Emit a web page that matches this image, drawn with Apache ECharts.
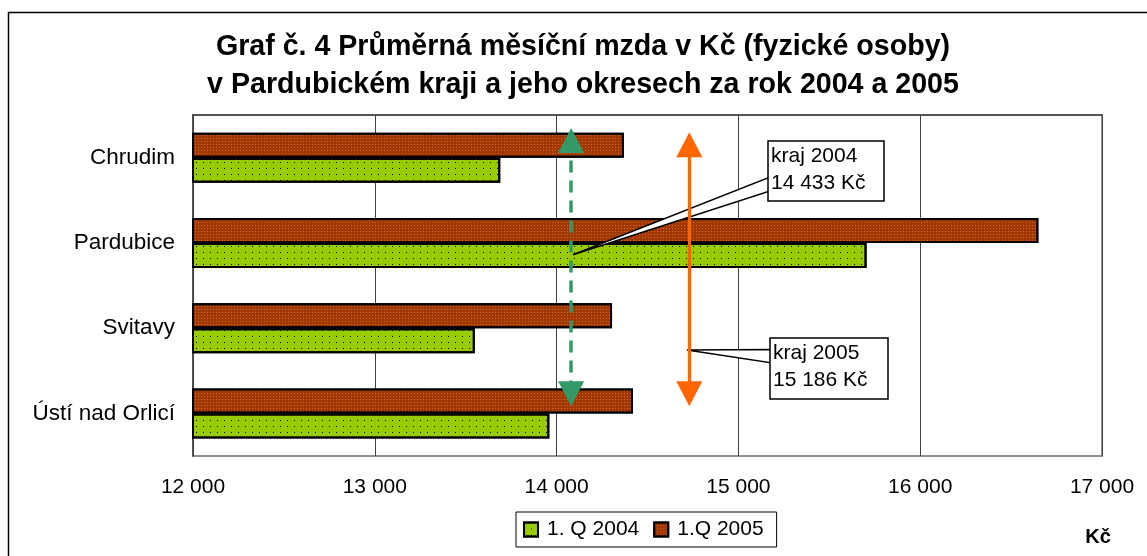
<!DOCTYPE html>
<html>
<head>
<meta charset="utf-8">
<script src="https://cdn.jsdelivr.net/npm/echarts@6/dist/echarts.min.js"></script>
<style>
  html, body { margin: 0; padding: 0; background: #fff; }
  #chart { width: 1147px; height: 556px; }
</style>
</head>
<body>
<div id="chart"></div>
<script>
// data
const categories = ['Chrudim', 'Pardubice', 'Svitavy', 'Ústí nad Orlicí'];
const q2004 = [13690, 15705, 13550, 13960];
const q2005 = [14370, 16650, 14305, 14420];
const xTicks = [12000, 13000, 14000, 15000, 16000, 17000];
const xTickLabels = ['12 000', '13 000', '14 000', '15 000', '16 000', '17 000'];

// annotations (x in Kč, y in category units from top)
const arrowX = [14080, 14730];
const arrowY = [[0.3, 3.27], [0.35, 3.27]];
const calloutText = [['kraj 2004', '14 433 Kč'], ['kraj 2005', '15 186 Kč']];
const calloutTip = [[14090, 1.64], [14717, 2.757]];

const font = "'Liberation Sans', Arial, sans-serif";
const chart = echarts.init(document.getElementById('chart'));

const option = {
  animation: false,
  backgroundColor: '#fff',
  textStyle: { fontFamily: font },
  legend: {
    data: ['1. Q 2004', '1.Q 2005'],
    icon: 'rect',
    left: 516,
    top: 512,
    padding: [7, 13, 7, 7],
    itemGap: 14,
    itemWidth: 14,
    itemHeight: 14,
    borderColor: '#000',
    borderWidth: 1,
    textStyle: { fontSize: 21, color: '#000', fontFamily: font, padding: [0, 0, 0, 4] }
  },
  grid: { left: 193, right: 45, top: 115, bottom: 100, show: true, borderColor: '#909090', borderWidth: 2 },
  xAxis: {
    type: 'value',
    min: 12000,
    max: 17000,
    interval: 1000,
    axisLine: { show: true, lineStyle: { color: '#404040', width: 1.5 } },
    axisTick: { show: true, length: 6, lineStyle: { color: '#404040' } },
    splitLine: { lineStyle: { color: '#404040', width: 1 } },
    axisLabel: {
      fontSize: 21, color: '#000', margin: 21, fontFamily: font,
      formatter: v => xTickLabels[xTicks.indexOf(v)]
    }
  },
  yAxis: [
    {
      type: 'category',
      data: categories,
      inverse: true,
      axisLine: { lineStyle: { color: '#404040', width: 1.5 } },
      axisTick: { length: 7, lineStyle: { color: '#606060' } },
      axisLabel: { fontSize: 22.5, color: '#000', margin: 18, fontFamily: font }
    },
    { type: 'value', min: 0, max: 4, inverse: true, show: false }
  ],
  series: [
    // 2005 first so it sits above 2004 in each band
    {
      name: '1.Q 2005',
      type: 'bar',
      data: q2005,
      barWidth: 25,
      barGap: '0%',
      itemStyle: {
        color: '#9E3804', borderColor: '#000', borderWidth: 2,
        decal: { symbol: 'rect', symbolSize: 1, color: '#E8660E', dashArrayX: [1, 2], dashArrayY: [1, 2] }
      }
    },
    {
      name: '1. Q 2004',
      type: 'bar',
      data: q2004,
      barWidth: 25,
      barGap: '0%',
      itemStyle: {
        color: '#99CC00', borderColor: '#000', borderWidth: 2,
        decal: { symbol: 'rect', symbolSize: 1, color: '#000', dashArrayX: [1, 6], dashArrayY: [1, 5] }
      }
    },
    {
      name: 'arrows',
      type: 'line',
      yAxisIndex: 1,
      data: [],
      z: 10,
      markLine: {
        silent: true,
        symbol: ['triangle', 'triangle'],
        symbolSize: [26, 25],
        label: { show: false },
        data: [
          [
            { coord: [arrowX[0], arrowY[0][0]], lineStyle: { color: '#339966', width: 3.5, type: [12, 8] }, itemStyle: { color: '#339966' } },
            { coord: [arrowX[0], arrowY[0][1]] }
          ],
          [
            { coord: [arrowX[1], arrowY[1][0]], lineStyle: { color: '#FF6600', width: 3.3, type: 'solid' }, itemStyle: { color: '#FF6600' } },
            { coord: [arrowX[1], arrowY[1][1]] }
          ]
        ]
      }
    }
  ]
};
chart.setOption(option);

// callout boxes with pointers
const boxes = [[768, 141, 116, 60, 177, 191], [770, 338, 118, 61, 349.5, 363]];
const graphics = [
  { type: 'rect', z: 0, silent: true, shape: { x: 8.5, y: 12.5, width: 1200, height: 600 }, style: { fill: 'none', stroke: '#000', lineWidth: 1.5 } },
  {
    type: 'text', z: 5, silent: true,
    style: {
      x: 583, y: 66, text: 'Graf č. 4 Průměrná měsíční mzda v Kč (fyzické osoby)\nv Pardubickém kraji a jeho okresech za rok 2004 a 2005',
      textAlign: 'center', textVerticalAlign: 'middle', font: "bold 28.6px " + font, lineHeight: 38, fill: '#000'
    }
  },
  { type: 'text', z: 5, silent: true, style: { x: 1098, y: 537, text: 'Kč', textAlign: 'center', textVerticalAlign: 'middle', font: "bold 20px " + font, fill: '#000' } }
];
boxes.forEach((b, i) => {
  const tx = chart.convertToPixel({ xAxisIndex: 0 }, calloutTip[i][0]);
  const ty = chart.convertToPixel({ yAxisIndex: 1 }, calloutTip[i][1]);
  graphics.push({
    type: 'polygon', z: 4, silent: true,
    shape: { points: [[tx, ty], [b[0] + 2, b[4]], [b[0] + 2, b[5]]] },
    style: { fill: '#fff', stroke: '#000', lineWidth: 1.5 }
  });
  graphics.push({
    type: 'rect', z: 4, silent: true,
    shape: { x: b[0], y: b[1], width: b[2], height: b[3] },
    style: { fill: '#fff', stroke: '#000', lineWidth: 1.5 }
  });
  graphics.push({
    type: 'text', z: 4, silent: true,
    style: { x: b[0] + 3, y: b[1] + 2, text: calloutText[i].join('\n'), font: "21px " + font, lineHeight: 27, fill: '#000' }
  });
});
chart.setOption({ graphic: graphics });
</script>
</body>
</html>
